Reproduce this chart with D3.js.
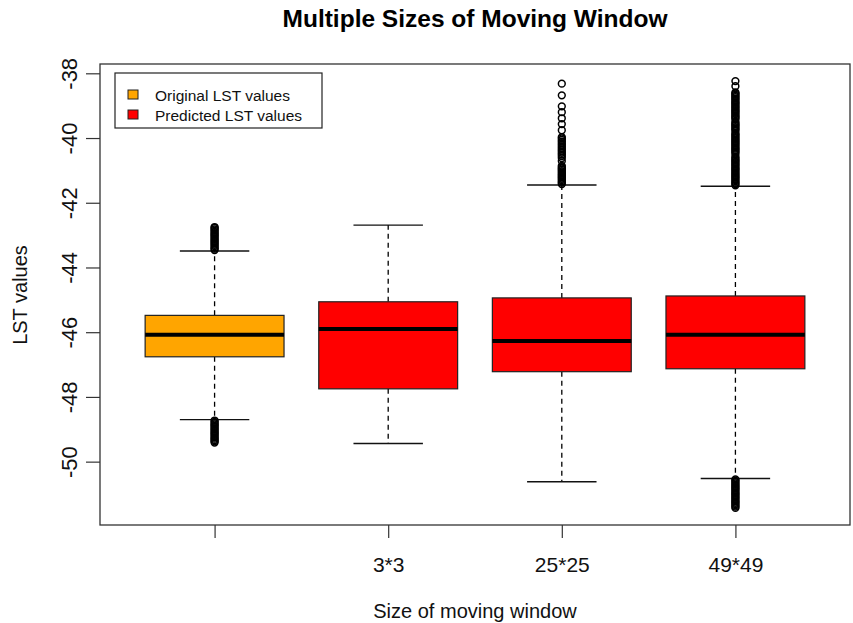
<!DOCTYPE html>
<html>
<head>
<meta charset="utf-8">
<script src="https://cdn.jsdelivr.net/npm/d3@7/dist/d3.min.js"></script>
<style>
  html, body { margin: 0; padding: 0; background: #fff; }
  svg { display: block; font-family: "Liberation Sans", Arial, sans-serif; }
</style>
</head>
<body>
<svg id="chart" width="853" height="623"></svg>
<script>
// Box positions along the x axis and their tick labels
const positions = [1, 2, 3, 4];
const categories = ["", "3*3", "25*25", "49*49"];
const seriesNames = ["Original LST values", "Predicted LST values"];
const seriesOfBox = [0, 1, 1, 1];

// Five-number summaries per box
const lowerWhisker = [-48.70, -49.44, -50.62, -50.52];
const lowerQuartile = [-46.76, -47.75, -47.22, -47.13];
const medians = [-46.08, -45.90, -46.27, -46.08];
const upperQuartile = [-45.48, -45.06, -44.94, -44.88];
const upperWhisker = [-43.49, -42.69, -41.45, -41.49];

// Outlying points per box
const outliersOriginal = [
  -43.46, -43.42, -43.38, -43.34, -43.30, -43.26, -43.22, -43.18, -43.14, -43.10,
  -43.06, -43.02, -42.98, -42.94, -42.90, -42.86, -42.82, -42.78, -42.75,
  -48.73, -48.77, -48.81, -48.85, -48.89, -48.93, -48.97, -49.01, -49.05, -49.09,
  -49.13, -49.17, -49.21, -49.25, -49.29, -49.33, -49.37, -49.41
];
const outliers3x3 = [];
const outliers25x25 = [
  -41.42, -41.38, -41.34, -41.30, -41.26, -41.22, -41.18, -41.14, -41.10, -41.06,
  -41.02, -40.98, -40.94, -40.90, -40.86, -40.71,
  -40.62, -40.56, -40.51, -40.46, -40.41, -40.36, -40.31, -40.26, -40.21, -40.16,
  -40.11, -40.06, -40.01, -39.97,
  -39.76, -39.57, -39.39, -39.20, -39.02, -38.68, -38.32
];
const outliers49x49 = [
  -41.46, -41.42, -41.38, -41.34, -41.30, -41.26, -41.22, -41.18, -41.14, -41.10,
  -41.06, -41.02, -40.98, -40.94, -40.90, -40.86, -40.82, -40.78, -40.74, -40.70,
  -40.66, -40.62, -40.58, -40.50, -40.45, -40.41, -40.37, -40.33, -40.29, -40.25,
  -40.21, -40.17, -40.13, -40.09, -40.05, -40.01, -39.97, -39.93, -39.89, -39.85,
  -39.78, -39.74, -39.70, -39.66, -39.62, -39.58, -39.54, -39.50, -39.42, -39.38,
  -39.34, -39.30, -39.26, -39.22, -39.18, -39.14, -39.10, -39.06, -39.02, -38.98,
  -38.94, -38.90, -38.86, -38.82, -38.78, -38.74, -38.70, -38.66, -38.62, -38.59,
  -38.40, -38.24,
  -50.55, -50.59, -50.63, -50.67, -50.71, -50.75, -50.79, -50.83, -50.87, -50.91,
  -50.95, -50.99, -51.03, -51.07, -51.11, -51.15, -51.19, -51.23, -51.27, -51.31,
  -51.35, -51.39, -51.43
];
const outliers = [outliersOriginal, outliers3x3, outliers25x25, outliers49x49];

const yTicks = [-50, -48, -46, -44, -42, -40, -38];

const fillColors = ["#FFA500", "#FF0000"];

const svg = d3.select("#chart");
const plot = { left: 100, right: 850, top: 64, bottom: 525 };

// Axis ranges padded by 4% on each side
const allValues = d3.merge([lowerWhisker, upperWhisker, d3.merge(outliers)]);
const [vMin, vMax] = d3.extent(allValues);
const vPad = (vMax - vMin) * 0.04;
const y = d3.scaleLinear().domain([vMin - vPad, vMax + vPad]).range([plot.bottom, plot.top]);
const xPad = (4.5 - 0.5) * 0.04;
const x = d3.scaleLinear().domain([0.5 - xPad, 4.5 + xPad]).range([plot.left, plot.right]);

const boxHalf = x(1.4) - x(1);
const stapleHalf = boxHalf / 2;

const boxes = positions.map((p, i) => ({
  p, lo: lowerWhisker[i], q1: lowerQuartile[i], med: medians[i], q3: upperQuartile[i],
  hi: upperWhisker[i], out: outliers[i], fill: fillColors[seriesOfBox[i]]
}));

const g = svg.append("g");

// Whiskers (dashed) and staples
boxes.forEach(b => {
  const cx = x(b.p);
  g.append("line").attr("x1", cx).attr("x2", cx).attr("y1", y(b.q3)).attr("y2", y(b.hi))
    .attr("stroke", "#000").attr("stroke-width", 1.3).attr("stroke-dasharray", "5,4");
  g.append("line").attr("x1", cx).attr("x2", cx).attr("y1", y(b.q1)).attr("y2", y(b.lo))
    .attr("stroke", "#000").attr("stroke-width", 1.3).attr("stroke-dasharray", "5,4");
  [b.hi, b.lo].forEach(v => {
    g.append("line").attr("x1", cx - stapleHalf).attr("x2", cx + stapleHalf)
      .attr("y1", y(v)).attr("y2", y(v)).attr("stroke", "#111").attr("stroke-width", 1.4);
  });
});

// Boxes with heavy median lines
g.selectAll("rect.box").data(boxes).join("rect").attr("class", "box")
  .attr("x", d => x(d.p) - boxHalf).attr("width", boxHalf * 2)
  .attr("y", d => y(d.q3)).attr("height", d => y(d.q1) - y(d.q3))
  .attr("fill", d => d.fill).attr("stroke", "#222").attr("stroke-width", 1.2);
g.selectAll("line.med").data(boxes).join("line").attr("class", "med")
  .attr("x1", d => x(d.p) - boxHalf).attr("x2", d => x(d.p) + boxHalf)
  .attr("y1", d => y(d.med)).attr("y2", d => y(d.med))
  .attr("stroke", "#000").attr("stroke-width", 4);

// Outliers as open circles
boxes.forEach(b => {
  g.selectAll(null).data(b.out).join("circle")
    .attr("cx", x(b.p)).attr("cy", d => y(d)).attr("r", 3.4)
    .attr("fill", "none").attr("stroke", "#000").attr("stroke-width", 1.5);
});

// Plot frame
svg.append("rect").attr("x", plot.left).attr("y", plot.top)
  .attr("width", plot.right - plot.left).attr("height", plot.bottom - plot.top)
  .attr("fill", "none").attr("stroke", "#333").attr("stroke-width", 1.3);

// Y axis
const yAxis = svg.append("g").attr("transform", `translate(${plot.left},0)`)
  .call(d3.axisLeft(y).tickValues(yTicks).tickSize(14).tickFormat(d3.format("d")));
yAxis.select(".domain").remove();
yAxis.selectAll(".tick line").attr("stroke", "#333").attr("stroke-width", 1.2);
yAxis.selectAll(".tick text")
  .attr("font-size", 22).attr("fill", "#111").attr("font-family", "Liberation Sans, Arial, sans-serif")
  .attr("text-anchor", "middle").attr("dy", null)
  .attr("transform", "rotate(-90)")
  .attr("x", 0).attr("y", -23);
yAxis.selectAll(".tick text").text(d => d3.format("d")(d).replace("−", "-"));

// X axis
const xAxis = svg.append("g").attr("transform", `translate(0,${plot.bottom})`)
  .call(d3.axisBottom(x).tickValues(positions).tickSize(13).tickFormat((d, i) => categories[i]));
xAxis.select(".domain").remove();
xAxis.selectAll(".tick line").attr("stroke", "#333").attr("stroke-width", 1.2);
xAxis.selectAll(".tick text")
  .attr("font-size", 21).attr("fill", "#111").attr("font-family", "Liberation Sans, Arial, sans-serif")
  .attr("y", 47).attr("dy", null);

// Titles
svg.append("text").attr("x", 475).attr("y", 27).attr("text-anchor", "middle")
  .attr("font-size", 24.5).attr("font-weight", "bold").attr("fill", "#000")
  .text("Multiple Sizes of Moving Window");
svg.append("text").attr("x", 475).attr("y", 618).attr("text-anchor", "middle")
  .attr("font-size", 20).attr("fill", "#111").text("Size of moving window");
svg.append("text").attr("transform", "translate(27,295) rotate(-90)").attr("text-anchor", "middle")
  .attr("font-size", 20).attr("fill", "#111").text("LST values");

// Legend
const legend = svg.append("g");
legend.append("rect").attr("x", 115).attr("y", 73).attr("width", 207).attr("height", 55)
  .attr("fill", "#fff").attr("stroke", "#222").attr("stroke-width", 1.2);
seriesNames.forEach((name, i) => {
  legend.append("rect").attr("x", 128).attr("y", 90 + i * 20).attr("width", 10).attr("height", 9)
    .attr("fill", fillColors[i]).attr("stroke", "#222").attr("stroke-width", 1);
  legend.append("text").attr("x", 155).attr("y", 100.5 + i * 20)
    .attr("font-size", 15.5).attr("fill", "#111").text(name);
});
</script>
</body>
</html>
